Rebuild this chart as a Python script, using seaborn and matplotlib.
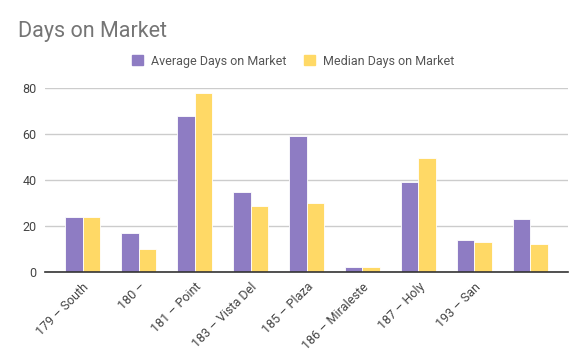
import pandas as pd
import seaborn as sns
import matplotlib.pyplot as plt

# data
categories = ["179 – South", "180 –", "181 – Point", "183 – Vista Del", "185 – Plaza",
              "186 – Miraleste", "187 – Holy", "193 – San", ""]
average_days = [24, 17, 68, 35, 59, 2, 39, 14, 23]
median_days = [24, 10, 78, 28.5, 30, 2, 49.5, 13, 12]
series_names = ["Average Days on Market", "Median Days on Market"]
y_ticks = [0, 20, 40, 60, 80]

# long format for seaborn (blank category gets a unique key so it stays separate)
keys = [c if c else " " for c in categories]
df = pd.DataFrame({
    "cat": keys * 2,
    "value": average_days + median_days,
    "series": [series_names[0]] * len(keys) + [series_names[1]] * len(keys),
})

sns.set_style("white")
plt.rcParams['font.family'] = ['Roboto', 'DejaVu Sans']

fig = plt.figure(figsize=(5.86, 3.62), dpi=100)
ax = fig.add_axes([45 / 586, 1 - 272 / 362, 523 / 586, 184 / 362])

sns.barplot(data=df, x="cat", y="value", hue="series", order=keys,
            palette=["#8e7cc3", "#ffd966"], saturation=1, width=0.63, ax=ax,
            edgecolor="white", linewidth=0.6, legend=False)

ax.set_xlim(-0.67, len(keys) - 0.33)
ax.set_ylim(0, 80)
ax.set_yticks(y_ticks)
ax.set_yticklabels([str(t) for t in y_ticks], color="#444444", fontsize=9)
ax.yaxis.grid(True, color="#cccccc", linewidth=1)
ax.set_axisbelow(True)
ax.set_xlabel("")
ax.set_ylabel("")
ax.tick_params(axis="both", length=0, pad=6)
ax.set_xticks(range(len(keys)))
ax.set_xticklabels(categories, rotation=45, ha="right", rotation_mode="anchor",
                   color="#444444", fontsize=9)
for s in ["top", "right", "left"]:
    ax.spines[s].set_visible(False)
ax.spines["bottom"].set_color("#333333")
ax.spines["bottom"].set_linewidth(1.2)

fig.text(18 / 586, 1 - 31 / 362, "Days on Market", fontsize=15.5, color="#757575", va="center")

handles = [plt.Rectangle((0, 0), 1, 1, color=c) for c in ["#8e7cc3", "#ffd966"]]
leg = fig.legend(handles, series_names, loc="center", bbox_to_anchor=(0.5, 1 - 61 / 362),
                 ncol=2, frameon=False, fontsize=9, handlelength=0.9, handleheight=0.9,
                 handletextpad=0.6, columnspacing=1.4)
for t in leg.get_texts():
    t.set_color("#555555")

fig.savefig("out.png", dpi=100)
